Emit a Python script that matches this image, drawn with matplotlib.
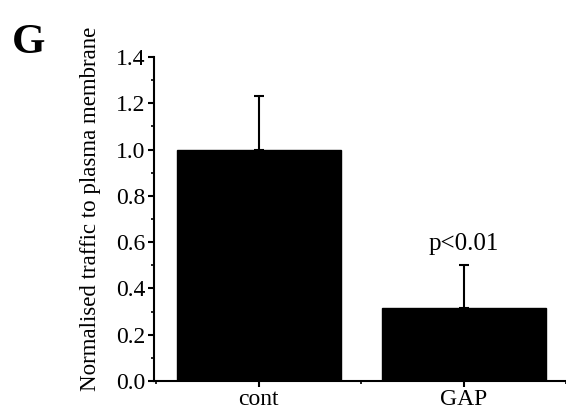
import matplotlib
matplotlib.use("Agg")
import matplotlib.pyplot as plt
from matplotlib.ticker import MultipleLocator

categories = ["cont", "GAP"]
values = [1.0, 0.315]
errors_upper = [0.23, 0.185]
annotation = "p<0.01"

plt.rcParams['font.family'] = ['Liberation Serif', 'DejaVu Serif']

fig = plt.figure(figsize=(5.66, 4.12), dpi=100)
ax = fig.add_axes([154/566, 31/412, 1 - 154/566, 324/412])

x = [1, 2]
ax.bar(x, values, width=0.8, color="black", edgecolor="black", zorder=2)
ax.errorbar(x, values, yerr=[[0, 0], errors_upper], fmt="none", ecolor="black",
            elinewidth=1.5, capsize=3.5, capthick=1.5, zorder=3)
ax.text(2, values[1] + errors_upper[1] + 0.045, annotation, ha="center", va="bottom", fontsize=18)

ax.set_xlim(0.49, 2.5)
ax.set_ylim(0, 1.4)
ax.set_xticks(x)
ax.set_xticklabels(categories, fontsize=17)
ax.xaxis.set_minor_locator(MultipleLocator(0.5))
ax.yaxis.set_major_locator(MultipleLocator(0.2))
ax.yaxis.set_minor_locator(MultipleLocator(0.1))
ax.set_yticklabels([f"{v:.1f}" for v in ax.get_yticks()], fontsize=17)
for s in ["top", "right"]:
    ax.spines[s].set_visible(False)
for s in ["left", "bottom"]:
    ax.spines[s].set_linewidth(1.5)
ax.tick_params(which="major", direction="out", length=4, width=1.5, pad=2)
ax.tick_params(which="minor", direction="out", length=2.5, width=1.2)
ax.set_ylabel("Normalised traffic to plasma membrane", fontsize=16.5)
ax.yaxis.set_label_coords(-0.128, 0.53)

fig.text(12/566, 1 - 53/412, "G", fontsize=31, fontweight="bold", ha="left", va="baseline")

fig.savefig("out.png", dpi=100)
